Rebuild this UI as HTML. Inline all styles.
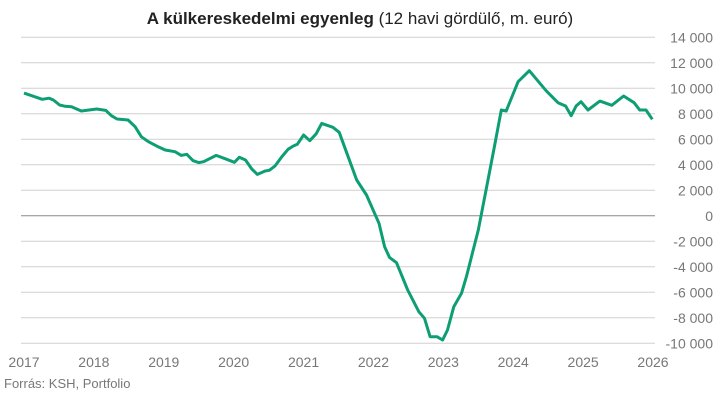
<!DOCTYPE html>
<html><head><meta charset="utf-8"><style>
body{margin:0;background:#fff;font-family:"Liberation Sans",sans-serif;}
svg{display:block}
</style></head><body>
<svg id="chart" width="720" height="401" xmlns="http://www.w3.org/2000/svg">
<text x="360" y="24" text-anchor="middle" font-size="17" fill="#222" font-family="Liberation Sans, sans-serif"><tspan font-weight="bold">A külkereskedelmi egyenleg</tspan> (12 havi gördülő, m. euró)</text>
<g id="grid"></g><g id="yticks"></g><g id="xticks"></g>
<path id="line" fill="none" stroke="#0e9e74" stroke-width="3" stroke-linejoin="round"/>
<text x="4" y="388" font-size="13" fill="#777">Forrás: KSH, Portfolio</text>
</svg>
<script>
const yTicks=[14000,12000,10000,8000,6000,4000,2000,0,-2000,-4000,-6000,-8000,-10000];
const yTickLabels=["14 000","12 000","10 000","8 000","6 000","4 000","2 000","0","-2 000","-4 000","-6 000","-8 000","-10 000"];
const xYears=[2017,2018,2019,2020,2021,2022,2023,2024,2025,2026];
const dates=[2017.0,2017.26,2017.36,2017.42,2017.51,2017.59,2017.68,2017.82,2018.04,2018.17,2018.25,2018.33,2018.49,2018.59,2018.68,2018.78,2018.90,2019.02,2019.16,2019.25,2019.33,2019.42,2019.50,2019.57,2019.75,2019.90,2020.01,2020.08,2020.17,2020.26,2020.34,2020.45,2020.51,2020.59,2020.69,2020.78,2020.85,2020.91,2021.00,2021.09,2021.18,2021.26,2021.42,2021.51,2021.62,2021.76,2021.90,2022.08,2022.16,2022.23,2022.33,2022.49,2022.65,2022.73,2022.81,2022.91,2022.99,2023.06,2023.15,2023.26,2023.33,2023.50,2023.62,2023.73,2023.83,2023.90,2024.07,2024.23,2024.47,2024.64,2024.75,2024.83,2024.90,2024.97,2025.07,2025.24,2025.41,2025.58,2025.73,2025.81,2025.90,2025.99];
const values=[9620,9140,9220,9080,8690,8590,8560,8220,8380,8270,7850,7590,7510,6990,6200,5810,5470,5160,5030,4740,4820,4320,4170,4240,4740,4430,4200,4590,4380,3670,3250,3510,3570,3900,4640,5220,5470,5610,6340,5890,6420,7250,6940,6550,4900,2810,1630,-590,-2420,-3260,-3680,-5820,-7530,-8040,-9480,-9480,-9740,-8960,-7130,-6080,-4780,-1110,2280,5420,8300,8220,10520,11380,9810,8870,8610,7850,8610,8950,8300,9000,8670,9400,8870,8300,8300,7570];
const NS="http://www.w3.org/2000/svg";
const X0=21,X1=655;
const xs=t=>24+(t-2017)*(653-24)/9;
const ys=v=>215.8-v*12.75/1000;
const grid=document.getElementById('grid'),yt=document.getElementById('yticks'),xt=document.getElementById('xticks');
yTicks.forEach((v,i)=>{
  const l=document.createElementNS(NS,'line');
  
  
  l.setAttribute('x1',X0);l.setAttribute('x2',X1);l.setAttribute('y1',ys(v));l.setAttribute('y2',ys(v));
  l.setAttribute('stroke',v===0?'#888':'#d0d0d0');l.setAttribute('stroke-width','1');
  grid.appendChild(l);
  const t=document.createElementNS(NS,'text');
  
  
  t.setAttribute('x',713);t.setAttribute('y',ys(v)+5);t.setAttribute('text-anchor','end');
  t.setAttribute('font-size','14');t.setAttribute('fill','#777');
  t.textContent=yTickLabels[i];yt.appendChild(t);
});
xYears.forEach(y=>{
  const t=document.createElementNS(NS,'text');
  
  
  t.setAttribute('x',xs(y));t.setAttribute('y',367);t.setAttribute('text-anchor','middle');
  t.setAttribute('font-size','14');t.setAttribute('fill','#777');
  t.textContent=y;xt.appendChild(t);
});
document.getElementById('line').setAttribute('d',dates.map((d,i)=>(i?'L':'M')+xs(d).toFixed(1)+','+ys(values[i]).toFixed(1)).join(''));
</script>
</body></html>
